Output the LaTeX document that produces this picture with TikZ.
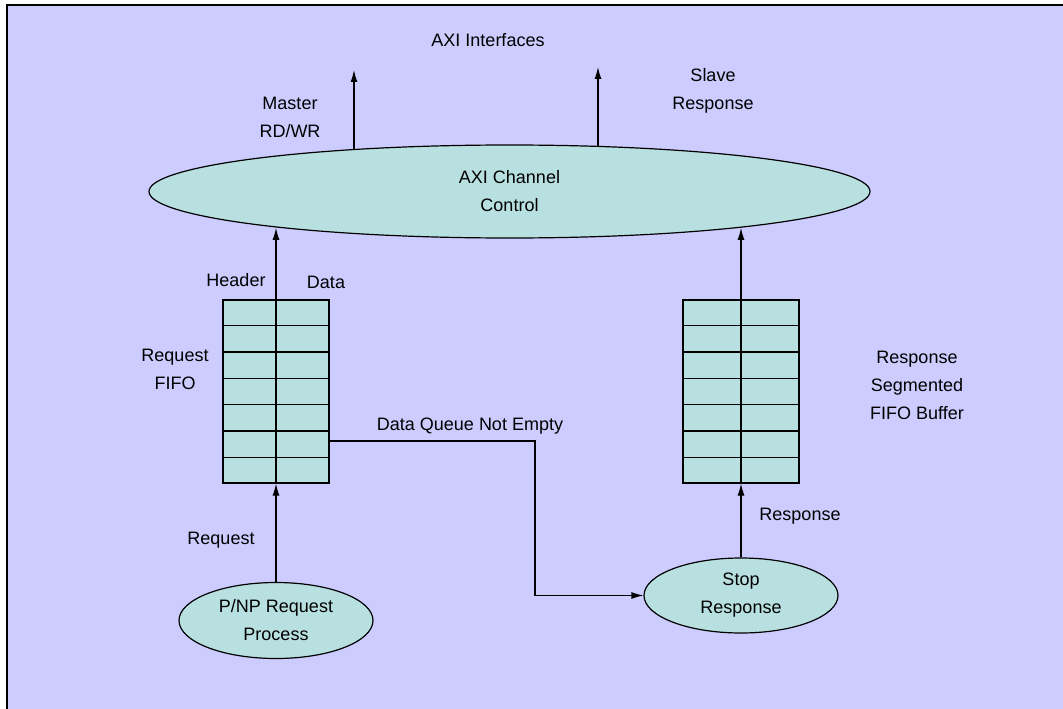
\documentclass[tikz,border=0pt]{standalone}
\usepackage{fontspec}
\setmainfont{Liberation Sans}
\usetikzlibrary{arrows.meta,shapes.geometric,positioning,calc}
\definecolor{axibg}{RGB}{204,204,255}
\definecolor{axifill}{RGB}{185,224,224}

\begin{document}
\begin{tikzpicture}[x=1pt,y=-1pt, >={Latex[length=12pt,width=7pt]},
  font=\fontsize{18}{28}\selectfont, line width=1.2pt,
  proc/.style={ellipse,draw,fill=axifill,inner sep=0pt,align=center},
  fifo/.style={rectangle,draw,fill=axifill,inner sep=0pt,minimum height=183pt},
  lbl/.style={align=center,inner sep=0pt}]

  \useasboundingbox (0,0) rectangle (1063,709);
  \fill[white] (0,0) rectangle (1063,709);
  \fill[axibg] (7,5) rectangle (1063,709);
  \draw (7,709) -- (7,5) -- (1063,5);

  % processes
  \node[proc,minimum width=721pt,minimum height=93pt] (axi) at (509.5,191.5) {AXI Channel\\Control};
  \node[proc,minimum width=194pt,minimum height=76pt] (pnp) at (276,620.5) {P/NP Request\\Process};
  \node[proc,minimum width=194pt,minimum height=75pt] (stop) at (741,595.5) {Stop\\Response};

  % fifo buffers, 7 slots each
  \node[fifo,minimum width=106pt] (reqf) at (276,391.5) {};
  \node[fifo,minimum width=116pt] (rspf) at (741,391.5) {};
  \foreach \f in {reqf,rspf}
    \foreach \i in {1,...,6}
      \draw ($(\f.north west)!\i/7!(\f.south west)$) -- ($(\f.north east)!\i/7!(\f.south east)$);

  % labels
  \node[lbl] (axiif)  at (488,40)    {AXI Interfaces};
  \node[lbl] (mst)    at (290,117.5) {Master\\RD/WR};
  \node[lbl] (slv)    at (713,91)    {Slave\\Response};
  \node[lbl] (hdr)    at (236,280)   {Header};
  \node[lbl] (dat)    at (326,282)   {Data};
  \node[lbl] (reqlbl) at (175,369.5) {Request\\FIFO};
  \node[lbl] (rsplbl) at (917,385.5) {Response\\Segmented\\FIFO Buffer};
  \node[lbl] (dq)     at (470,426)   {Data Queue Not Empty};
  \node[lbl] (req)    at (221,540)   {Request};
  \node[lbl] (rsp)    at (800,516)   {Response};

  % free ends of the interface arrows
  \coordinate (mtip) at (354,70);
  \coordinate (stip) at (598,67);
  \coordinate (dqbend) at (535,441);

  \draw[->] (mtip |- axi.165) -- (mtip);
  \draw[->] (stip |- axi.27) -- (stip);
  \draw[->] (pnp.north) -- (reqf.south);
  \draw[->] (reqf.south) -- (reqf.south |- axi.189);
  \draw[->] (stop.north) -- (rspf.south);
  \draw[->] (rspf.south) -- (rspf.south |- axi.-9);
  \draw[->] (reqf.east |- dqbend) -- (dqbend) |- (stop.west);
\end{tikzpicture}
\end{document}
